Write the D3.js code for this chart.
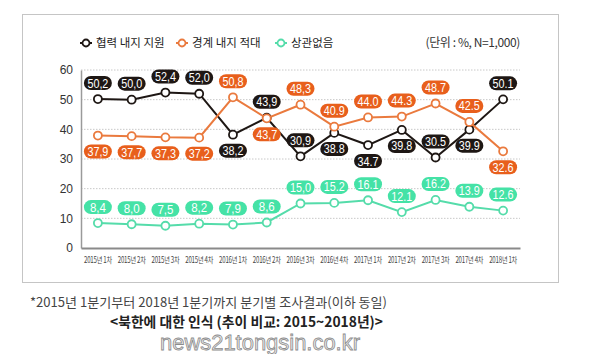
<!DOCTYPE html>
<html>
<head>
<meta charset="utf-8">
<script src="https://cdn.jsdelivr.net/npm/d3@7"></script>
<style>
  body { margin: 0; background: #fff; }
  svg text { font-family: "Noto Sans CJK KR", "Noto Sans", sans-serif; }
</style>
</head>
<body>
<svg id="chart" width="599" height="354"></svg>
<script>
// quarters on the x axis
const quarters = ["2015년 1차", "2015년 2차", "2015년 3차", "2015년 4차", "2016년 1차", "2016년 2차",
    "2016년 3차", "2016년 4차", "2017년 1차", "2017년 2차", "2017년 3차", "2017년 4차", "2018년 1차"];

const seriesNames = ["협력 내지 지원", "경계 내지 적대", "상관없음"];
const cooperate = [50.2, 50.0, 52.4, 52.0, 38.2, 43.9, 30.9, 38.8, 34.7, 39.8, 30.5, 39.9, 50.1];
const hostile = [37.9, 37.7, 37.3, 37.2, 50.8, 43.7, 48.3, 40.9, 44.0, 44.3, 48.7, 42.5, 32.6];
const indifferent = [8.4, 8.0, 7.5, 8.2, 7.9, 8.6, 15.0, 15.2, 16.1, 12.1, 16.2, 13.9, 12.6];

const yTicks = [0, 10, 20, 30, 40, 50, 60];

// -1 = label above the point, 1 = below
const sideCooperate = [-1, -1, -1, -1, 1, -1, -1, 1, 1, 1, -1, 1, -1];
const sideHostile = [1, 1, 1, 1, -1, 1, -1, -1, -1, -1, -1, -1, 1];
const sideIndifferent = [-1, -1, -1, -1, -1, -1, -1, -1, -1, -1, -1, -1, -1];

const series = [
    { name: seriesNames[0], values: cooperate, side: sideCooperate, line: "#1e1714", pill: "#1e1714" },
    { name: seriesNames[1], values: hostile, side: sideHostile, line: "#ea7a3e", pill: "#e85f1c" },
    { name: seriesNames[2], values: indifferent, side: sideIndifferent, line: "#55dcaa", pill: "#45e2a6" }
];

const svg = d3.select("#chart");

// dotted frame
svg.append("rect")
    .attr("x", 22.5).attr("y", 14.5)
    .attr("width", 536).attr("height", 268)
    .attr("fill", "none")
    .attr("stroke", "#8a8a8a")
    .attr("stroke-dasharray", "1,1");

const x = d3.scaleBand().domain(quarters).range([81, 520]);
const y = d3.scaleLinear().domain([0, 60]).range([248, 70]);
const cx = d => x(d) + x.bandwidth() / 2;

// grid
svg.append("g")
    .selectAll("line")
    .data(yTicks.filter(t => t > 0))
    .enter().append("line")
    .attr("x1", 81).attr("x2", 520)
    .attr("y1", d => y(d)).attr("y2", d => y(d))
    .attr("stroke", "#c8c8c8")
    .attr("stroke-dasharray", "1.5,1.5");

// y axis
const yAxis = svg.append("g")
    .attr("transform", "translate(81,0)")
    .call(d3.axisLeft(y).tickValues(yTicks).tickSize(0).tickPadding(8));
yAxis.select(".domain").attr("stroke", "#9a9a9a").attr("stroke-width", 1.5);
yAxis.selectAll("text")
    .attr("font-size", 12)
    .attr("fill", "#333")
    .style("font-family", "'Liberation Sans', sans-serif");

// x axis (condensed labels)
const xAxis = svg.append("g")
    .attr("transform", "translate(0,248)")
    .call(d3.axisBottom(x).tickSize(0).tickPadding(9));
xAxis.select(".domain").attr("stroke", "#8a8a8a").attr("stroke-width", 2);
xAxis.selectAll("text")
    .attr("font-size", 8.5)
    .attr("fill", "#444")
    .attr("letter-spacing", -0.3)
    .attr("transform", "scale(0.72,1)");

// lines, markers, value labels
const line = d3.line()
    .x((d, i) => cx(quarters[i]))
    .y(d => y(d));

series.forEach(function (s) {
    svg.append("path")
        .datum(s.values)
        .attr("fill", "none")
        .attr("stroke", s.line)
        .attr("stroke-width", 2)
        .attr("d", line);

    svg.append("g").selectAll("circle")
        .data(s.values)
        .enter().append("circle")
        .attr("cx", (d, i) => cx(quarters[i]))
        .attr("cy", d => y(d))
        .attr("r", 4)
        .attr("fill", "#fff")
        .attr("stroke", s.line)
        .attr("stroke-width", 1.8);

    const labels = svg.append("g").selectAll("g")
        .data(s.values)
        .enter().append("g")
        .attr("transform", (d, i) => `translate(${cx(quarters[i])},${y(d) + s.side[i] * 16})`);

    labels.append("rect")
        .attr("x", -14).attr("y", -7)
        .attr("width", 28).attr("height", 14)
        .attr("rx", 7)
        .attr("fill", s.pill);

    labels.append("text")
        .attr("text-anchor", "middle")
        .attr("dy", "0.36em")
        .attr("font-size", 12.5)
        .attr("fill", "#fff")
        .attr("textLength", d => d < 10 ? 16 : 21)
        .attr("lengthAdjust", "spacingAndGlyphs")
        .style("font-family", "'Liberation Sans', sans-serif")
        .text((d, i) => {
            const t = d.toFixed(1);
            return i < 7 ? t.replace(".", ",") : t;
        });
});

// legend
const legendX = [86, 182, 281];
const legend = svg.append("g").selectAll("g")
    .data(series)
    .enter().append("g")
    .attr("transform", (d, i) => `translate(${legendX[i]},43)`);

legend.append("line")
    .attr("x1", -6).attr("x2", 6)
    .attr("stroke", d => d.line)
    .attr("stroke-width", 2);
legend.append("circle")
    .attr("r", 3.5)
    .attr("fill", "#fff")
    .attr("stroke", d => d.line)
    .attr("stroke-width", 1.8);
legend.append("text")
    .attr("x", 10)
    .attr("dy", "0.36em")
    .attr("font-size", 11.5)
    .attr("fill", "#222")
    .text(d => d.name);

svg.append("text")
    .attr("x", 520).attr("y", 43)
    .attr("dy", "0.36em")
    .attr("text-anchor", "end")
    .attr("font-size", 12)
    .attr("fill", "#333")
    .attr("letter-spacing", -0.4)
    .text("(단위 : %, N=1,000)");

// footnote and title
svg.append("text")
    .attr("x", 30).attr("y", 307)
    .attr("font-size", 13)
    .attr("fill", "#444")
    .attr("textLength", 357)
    .attr("lengthAdjust", "spacingAndGlyphs")
    .text("*2015년 1분기부터 2018년 1분기까지 분기별 조사결과(이하 동일)");

svg.append("text")
    .attr("x", 110).attr("y", 327)
    .attr("font-size", 14)
    .attr("font-weight", "bold")
    .attr("fill", "#222")
    .attr("textLength", 273)
    .attr("lengthAdjust", "spacingAndGlyphs")
    .text("<북한에 대한 인식 (추이 비교: 2015~2018년)>");

// watermark
svg.append("text")
    .attr("x", 160).attr("y", 350)
    .attr("font-size", 22)
    .attr("fill", "#ececec")
    .attr("stroke", "#8c8c8c")
    .attr("stroke-width", 0.8)
    .attr("textLength", 200)
    .attr("lengthAdjust", "spacingAndGlyphs")
    .style("font-family", "'Liberation Sans', Arial, sans-serif")
    .text("news21tongsin.co.kr");
</script>
</body>
</html>
